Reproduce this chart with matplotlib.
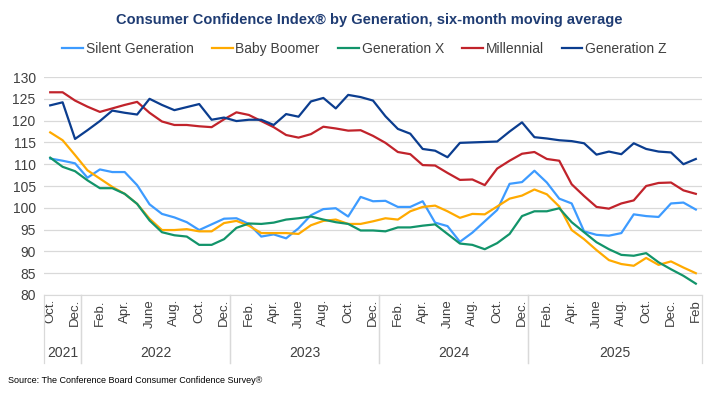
import matplotlib.pyplot as plt
import matplotlib.transforms as mtransforms

# months run Oct 2021 .. Feb 2026 (53 points), labels follow the source chart
tick_labels = ['Oct.', 'Dec.', 'Feb.', 'Apr.', 'June', 'Aug.', 'Oct.', 'Dec.',
               'Feb.', 'Apr.', 'June', 'Aug.', 'Oct.', 'Dec.',
               'Feb.', 'Apr.', 'June', 'Aug.', 'Oct.', 'Dec.',
               'Feb.', 'Apr.', 'June', 'Aug.', 'Oct.', 'Dec.', 'Feb']
years = ['2021', '2022', '2023', '2024', '2025']
year_bounds = [(-0.5, 2.5), (2.5, 14.5), (14.5, 26.5), (26.5, 38.5), (38.5, 52.5)]

silent = [111.3, 110.8, 110.2, 106.9, 108.8, 108.2, 108.2, 105.2, 100.8, 98.6,
          97.8, 96.7, 94.9, 96.2, 97.5, 97.6, 96.3, 93.4, 93.9, 93.0,
          95.3, 98.3, 99.7, 99.9, 98.0, 102.5, 101.5, 101.6, 100.2, 100.2,
          101.5, 96.6, 95.8, 92.2, 94.3, 96.9, 99.5, 105.5, 105.9, 108.5,
          105.8, 102.1, 101.0, 94.6, 93.8, 93.6, 94.2, 98.5, 98.1, 97.9,
          101.0, 101.2, 99.6]
boomer = [117.3, 115.5, 112.1, 108.6, 106.7, 104.8, 103.2, 100.9, 97.5, 94.9,
          94.9, 95.1, 94.6, 94.6, 96.5, 97.0, 95.9, 94.2, 94.2, 94.2,
          94.0, 96.0, 97.0, 97.3, 96.3, 96.3, 96.9, 97.6, 97.3, 99.2,
          100.2, 100.5, 99.2, 97.7, 98.6, 98.5, 100.3, 102.1, 102.8, 104.2,
          103.1, 100.3, 94.9, 92.8, 90.3, 88.0, 87.1, 86.7, 88.5, 86.9,
          87.7, 86.3, 85.0]
gen_x = [111.5, 109.4, 108.4, 106.3, 104.5, 104.5, 103.2, 100.9, 97.1, 94.4,
         93.7, 93.4, 91.5, 91.5, 92.8, 95.4, 96.4, 96.3, 96.6, 97.3,
         97.6, 98.0, 97.3, 96.7, 96.3, 94.8, 94.8, 94.6, 95.5, 95.5,
         95.9, 96.2, 94.0, 91.8, 91.5, 90.5, 91.9, 94.0, 98.1, 99.2,
         99.2, 99.9, 96.7, 94.4, 92.1, 90.5, 89.2, 89.0, 89.6, 87.5,
         85.9, 84.4, 82.6]
millennial = [126.5, 126.5, 124.6, 123.2, 122.0, 122.8, 123.6, 124.3, 121.8, 119.8,
              119.0, 119.0, 118.7, 118.5, 120.3, 121.9, 121.3, 119.9, 118.5, 116.7,
              116.1, 116.9, 118.6, 118.2, 117.7, 117.8, 116.5, 114.9, 112.8, 112.3,
              109.8, 109.7, 108.0, 106.4, 106.5, 105.2, 109.0, 110.8, 112.4, 112.8,
              111.2, 110.8, 105.4, 102.7, 100.2, 99.8, 101.0, 101.7, 105.0, 105.7,
              105.8, 104.0, 103.2]
gen_z = [123.5, 124.2, 115.8, 117.8, 119.9, 122.3, 121.8, 121.4, 125.0, 123.6,
         122.4, 123.1, 123.8, 120.2, 120.7, 119.9, 120.2, 120.2, 119.0, 121.5,
         120.9, 124.4, 125.2, 122.8, 125.9, 125.4, 124.6, 121.0, 118.1, 117.0,
         113.5, 113.1, 111.6, 114.9, 115.0, 115.1, 115.2, 117.5, 119.6, 116.2,
         115.9, 115.5, 115.3, 114.8, 112.2, 112.9, 112.3, 114.8, 113.5, 112.9,
         112.7, 110.0, 111.2]

series = [
    ('Silent Generation', silent, '#3D9BFF'),
    ('Baby Boomer', boomer, '#FFAA00'),
    ('Generation X', gen_x, '#12946A'),
    ('Millennial', millennial, '#C1232B'),
    ('Generation Z', gen_z, '#0B3D8F'),
]

plt.rcParams['font.family'] = ['Liberation Sans', 'DejaVu Sans']
text_color = '#404040'
grid_color = '#D9D9D9'

fig = plt.figure(figsize=(7.12, 3.93), dpi=100)
ax = fig.add_axes([0.0618, 0.2494, 0.9242, 0.5546])

x = list(range(len(silent)))
for name, values, color in series:
    ax.plot(x, values, color=color, lw=1.6, label=name)

ax.set_xlim(-0.5, len(x) - 0.5)
ax.set_ylim(80, 130)
ax.set_yticks(range(80, 131, 5))
ax.yaxis.grid(True, color=grid_color, lw=0.9)
ax.set_axisbelow(True)
ax.tick_params(axis='y', length=0, labelsize=10, colors=text_color, pad=6)

ax.set_xticks(x[::2])
ax.set_xticklabels(tick_labels, rotation=90, fontsize=9.5, color=text_color)
ax.tick_params(axis='x', length=0, pad=3)

for side in ['top', 'right', 'left']:
    ax.spines[side].set_visible(False)
ax.spines['bottom'].set_color(grid_color)

# year row under the month labels, with separator lines
trans = mtransforms.blended_transform_factory(ax.transData, ax.transAxes)
for year, (lo, hi) in zip(years, year_bounds):
    ax.text((lo + hi) / 2, -0.265, year, transform=trans, ha='center', va='center',
            fontsize=10, color=text_color, clip_on=False)
    for edge in (lo, hi):
        ax.plot([edge, edge], [0, -0.31], transform=trans, color=grid_color,
                lw=0.9, clip_on=False)

fig.text(0.518, 0.949, 'Consumer Confidence Index\u00ae by Generation, six-month moving average',
         ha='center', va='center', fontsize=10.5, fontweight='bold', color='#1F3C73')

fig.legend(loc='center', bbox_to_anchor=(0.512, 0.876), ncol=5, frameon=False,
           fontsize=10, handlelength=1.5, handletextpad=0.2, columnspacing=1.3,
           labelcolor=text_color)

fig.text(0.011, 0.031, 'Source: The Conference Board Consumer Confidence Survey\u00ae',
         ha='left', va='center', fontsize=6.5, color='black')

fig.savefig('out.png', dpi=100, facecolor='white')
